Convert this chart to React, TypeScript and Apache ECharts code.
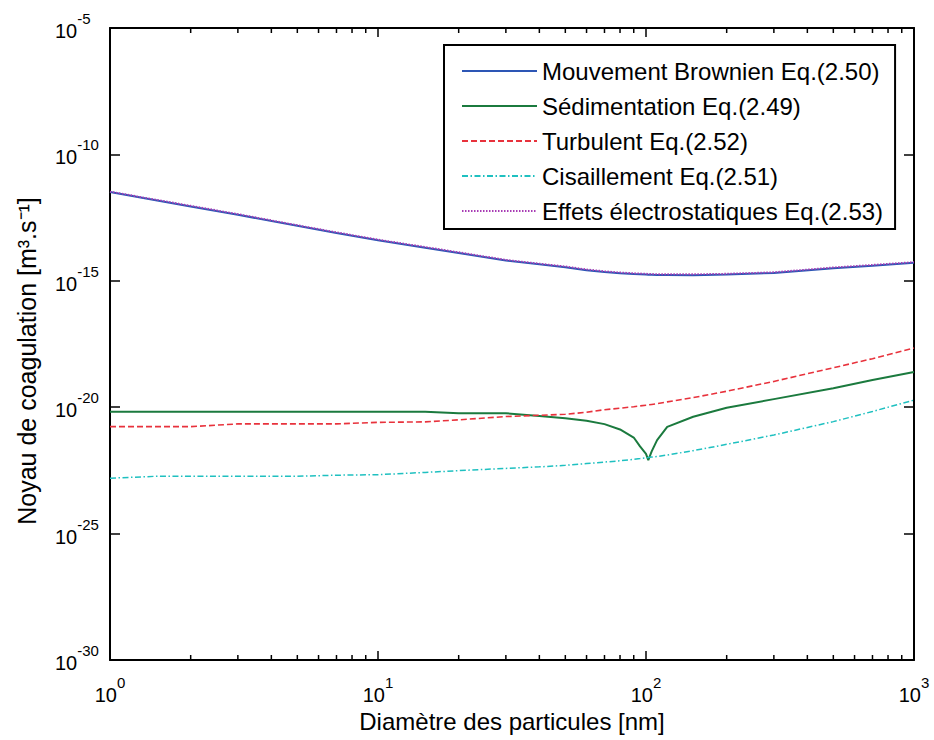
import React, { useEffect, useRef } from "react";
import * as echarts from "echarts";

// Particle diameters [nm] at which the curves were read
const diameters = [1, 1.5, 2, 3, 5, 7, 10, 15, 20, 30, 40, 50, 60, 70, 80, 90, 95, 100, 102, 105, 110, 120, 150, 200, 300, 500, 700, 1000];

// Coagulation kernel values, given as their base-10 exponent
const brownianExp = [-11.49, -11.82, -12.06, -12.39, -12.82, -13.11, -13.40, -13.69, -13.90, -14.20, -14.35, -14.46, -14.58, -14.65, -14.70, -14.73, -14.74, -14.75, -14.76, -14.76, -14.77, -14.77, -14.78, -14.75, -14.69, -14.50, -14.40, -14.29];
const sedimentationExp = [-20.18, -20.18, -20.18, -20.18, -20.18, -20.18, -20.18, -20.18, -20.24, -20.24, -20.35, -20.44, -20.54, -20.67, -20.88, -21.20, -21.55, -21.85, -22.09, -21.75, -21.30, -20.78, -20.38, -20.02, -19.68, -19.25, -18.92, -18.61];
const turbulentExp = [-20.77, -20.77, -20.77, -20.66, -20.66, -20.66, -20.60, -20.58, -20.50, -20.37, -20.32, -20.28, -20.20, -20.10, -20.04, -19.98, -19.95, -19.92, -19.91, -19.89, -19.86, -19.79, -19.62, -19.37, -18.98, -18.44, -18.08, -17.66];
const shearExp = [-22.81, -22.73, -22.73, -22.73, -22.73, -22.69, -22.67, -22.58, -22.51, -22.42, -22.36, -22.30, -22.23, -22.17, -22.12, -22.06, -22.03, -22.00, -21.99, -21.97, -21.95, -21.89, -21.72, -21.47, -21.10, -20.57, -20.17, -19.72];
const electrostaticExp = [-11.47, -11.80, -12.03, -12.36, -12.80, -13.08, -13.37, -13.66, -13.87, -14.17, -14.32, -14.43, -14.55, -14.62, -14.67, -14.70, -14.71, -14.72, -14.73, -14.73, -14.74, -14.74, -14.74, -14.72, -14.66, -14.47, -14.37, -14.26];

const seriesNames = [
  "Mouvement Brownien Eq.(2.50)",
  "Sédimentation Eq.(2.49)",
  "Turbulent Eq.(2.52)",
  "Cisaillement Eq.(2.51)",
  "Effets électrostatiques Eq.(2.53)",
];

// Axis extents (decade exponents)
const xDecadeMin = 0;
const xDecadeMax = 3;
const yDecadeMin = -30;
const yDecadeMax = -5;
const yDecadeStep = 5;

// Minor tick multipliers inside each x decade
const minorMultipliers = [2, 3, 4, 5, 6, 7, 8, 9];
const minorDecades = [1, 10, 100];

const FONT = "'Liberation Sans', Arial, Helvetica, sans-serif";

export default function App() {
  const ref = useRef<HTMLDivElement>(null);

  useEffect(() => {
    if (!ref.current) return;
    const chart = echarts.init(ref.current, null, { renderer: "svg" });

    const toData = (exps: number[]) => diameters.map((d, i) => [Math.log10(d), exps[i]]);

    const minorTicks: number[][] = [];
    minorDecades.forEach((dec) =>
      minorMultipliers.forEach((k) => minorTicks.push([Math.log10(k * dec), yDecadeMin]))
    );

    const labelRich = {
      b: { fontSize: 20, lineHeight: 40, fontFamily: FONT, color: "#000" },
      s: { fontSize: 15, lineHeight: 15, verticalAlign: "top", fontFamily: FONT, color: "#000" },
    };
    const fmt = (v: number) => `{b|10}{s|${Math.round(v)}}`;

    const axisLineStyle = { show: true, onZero: false, lineStyle: { color: "#000", width: 2 } };
    const tickStyle = (len: number) => ({ show: true, inside: true, length: len, lineStyle: { color: "#000", width: 1.5 } });

    const lineSeries = (name: string, exps: number[], color: string, width: number, type: any, z: number) => ({
      name,
      type: "line",
      data: toData(exps),
      showSymbol: false,
      symbol: "none",
      z,
      lineStyle: { color, width, type },
      itemStyle: { color },
    });

    chart.setOption({
      animation: false,
      backgroundColor: "#fff",
      grid: { left: 110, right: 20, top: 28, bottom: 80, containLabel: false, outerBoundsMode: "none" },
      legend: {
        data: seriesNames,
        orient: "vertical",
        left: 444,
        top: 45,
        padding: [14, 12, 6, 17],
        itemGap: 11,
        itemWidth: 75,
        itemHeight: 14,
        itemStyle: { opacity: 0 },
        backgroundColor: "#fff",
        borderColor: "#000",
        borderWidth: 2,
        borderRadius: 0,
        textStyle: { fontSize: 24, lineHeight: 24, fontFamily: FONT, color: "#000" },
      },
      xAxis: [
        {
          type: "value",
          min: xDecadeMin,
          max: xDecadeMax,
          interval: 1,
          position: "bottom",
          axisLine: axisLineStyle,
          axisTick: tickStyle(9),
          splitLine: { show: false },
          axisLabel: { margin: 15, formatter: fmt, rich: labelRich },
          name: "Diamètre des particules [nm]",
          nameLocation: "middle",
          nameGap: 46,
          nameTextStyle: { fontSize: 24, fontFamily: FONT, color: "#000" },
        },
        {
          type: "value",
          min: xDecadeMin,
          max: xDecadeMax,
          interval: 1,
          position: "top",
          axisLine: axisLineStyle,
          axisTick: tickStyle(9),
          splitLine: { show: false },
          axisLabel: { show: false },
        },
      ],
      yAxis: [
        {
          type: "value",
          min: yDecadeMin,
          max: yDecadeMax,
          interval: yDecadeStep,
          position: "left",
          axisLine: axisLineStyle,
          axisTick: tickStyle(10),
          splitLine: { show: false },
          axisLabel: { margin: 55, align: "left", padding: [6, 0, 0, 0], formatter: fmt, rich: labelRich },
          name: "Noyau de coagulation [m\u00B3.s\u207B\u00B9]",
          nameLocation: "middle",
          nameGap: 71,
          nameTextStyle: { fontSize: 25, fontFamily: FONT, color: "#000", padding: [0, 34, 0, 0] },
        },
        {
          type: "value",
          min: yDecadeMin,
          max: yDecadeMax,
          interval: yDecadeStep,
          position: "right",
          axisLine: axisLineStyle,
          axisTick: tickStyle(10),
          splitLine: { show: false },
          axisLabel: { show: false },
        },
      ],
      series: [
        lineSeries(seriesNames[0], brownianExp, "#2d56b5", 2, "solid", 2),
        lineSeries(seriesNames[1], sedimentationExp, "#1b7a3e", 2, "solid", 2),
        lineSeries(seriesNames[2], turbulentExp, "#e8323c", 1.6, [6, 3], 2),
        lineSeries(seriesNames[3], shearExp, "#1fc0c0", 1.5, [6, 2.5, 1.5, 2.5], 2),
        lineSeries(seriesNames[4], electrostaticExp, "#a83cb4", 1.8, [1.5, 1.5], 3),
        {
          type: "custom",
          name: "minorTicks",
          silent: true,
          clip: false,
          z: 5,
          data: minorTicks,
          encode: { x: 0, y: 1 },
          renderItem: (_params: any, api: any) => {
            const x = api.value(0);
            const b = api.coord([x, yDecadeMin]);
            const t = api.coord([x, yDecadeMax]);
            const st = { stroke: "#000", lineWidth: 1.5 };
            return {
              type: "group",
              children: [
                { type: "line", shape: { x1: b[0], y1: b[1], x2: b[0], y2: b[1] - 5 }, style: st },
                { type: "line", shape: { x1: t[0], y1: t[1], x2: t[0], y2: t[1] + 5 }, style: st },
              ],
            };
          },
        },
      ],
    });

    return () => chart.dispose();
  }, []);

  return (
    <div
      ref={ref}
      style={{ position: "fixed", left: 0, top: 0, width: 934, height: 740, background: "#fff" }}
    />
  );
}
